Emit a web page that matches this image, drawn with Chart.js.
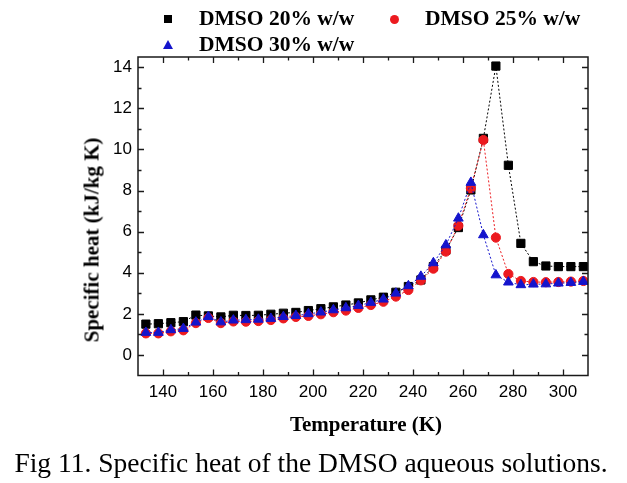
<!DOCTYPE html>
<html>
<head>
<meta charset="utf-8">
<script src="https://cdn.jsdelivr.net/npm/chart.js@4.4.1/dist/chart.umd.min.js"></script>
<style>
html,body{margin:0;padding:0;background:#fff;}
#wrap{position:relative;width:627px;height:483px;overflow:hidden;background:#fff;}
#c{position:absolute;left:0;top:0;}
.t{position:absolute;white-space:nowrap;font-family:"Liberation Serif","Times New Roman",serif;color:#000;line-height:1;}
.b{font-weight:bold;}
.mk{position:absolute;}
</style>
</head>
<body>
<div id="wrap">
<canvas id="c" width="627" height="483"></canvas>
<div id="legend"></div>
<div class="t b" id="ytitle" style="font-size:21px;left:92px;top:240px;transform:translate(-50%,-50%) rotate(-90deg);">Specific heat (kJ/kg K)</div>
<div class="t b" id="xtitle" style="font-size:21px;left:366px;top:424px;transform:translate(-50%,-50%);">Temperature (K)</div>
<div class="t" id="caption" style="font-size:27.5px;left:311px;top:463px;transform:translate(-50%,-50%);">Fig 11. Specific heat of the DMSO aqueous solutions.</div>
</div>
<script>
// ---- data ----
const temperatures = [133.15,138.15,143.15,148.15,153.15,158.15,163.15,168.15,173.15,178.15,
  183.15,188.15,193.15,198.15,203.15,208.15,213.15,218.15,223.15,228.15,
  233.15,238.15,243.15,248.15,253.15,258.15,263.15,268.15,273.15,278.15,
  283.15,288.15,293.15,298.15,303.15,308.15];
const dmso20 = [1.50,1.52,1.57,1.62,1.94,1.90,1.85,1.93,1.92,1.93,
  1.98,2.03,2.07,2.16,2.25,2.34,2.43,2.53,2.68,2.81,
  3.05,3.33,3.65,4.30,5.10,6.20,8.03,10.54,14.06,9.23,
  5.43,4.54,4.33,4.30,4.30,4.30];
const dmso25 = [1.05,1.05,1.15,1.20,1.55,1.80,1.55,1.63,1.62,1.65,
  1.70,1.78,1.85,1.90,1.98,2.08,2.16,2.29,2.43,2.59,
  2.84,3.16,3.63,4.20,5.03,6.29,8.11,10.46,5.71,3.94,
  3.60,3.55,3.54,3.55,3.57,3.60];
const dmso30 = [1.09,1.09,1.22,1.28,1.59,1.86,1.60,1.69,1.71,1.73,
  1.77,1.86,1.91,2.00,2.08,2.19,2.29,2.40,2.55,2.71,
  3.00,3.36,3.82,4.48,5.35,6.65,8.39,5.84,3.89,3.54,
  3.41,3.44,3.45,3.49,3.52,3.57];
const seriesNames = ["DMSO 20% w/w","DMSO 25% w/w","DMSO 30% w/w"];
const xTickLabels = [140,160,180,200,220,240,260,280,300];
const yTickLabels = [0,2,4,6,8,10,12,14];

const colors = ["#000000","#ec1a1f","#1414cc"];

// ---- legend (HTML text) ----
const legendItems = [
  {name: seriesNames[0], color: colors[0], shape: 'square', left: 163, top: 19},
  {name: seriesNames[1], color: colors[1], shape: 'circle', left: 389, top: 19},
  {name: seriesNames[2], color: colors[2], shape: 'triangle', left: 163, top: 45}
];
const legendEl = document.getElementById('legend');
legendItems.forEach(it => {
  const m = document.createElement('div');
  m.className = 'mk';
  if (it.shape === 'square') {
    m.style.cssText = `left:${it.left+1}px;top:${it.top-4}px;width:8px;height:8px;background:${it.color};`;
  } else if (it.shape === 'circle') {
    m.style.cssText = `left:${it.left+1}px;top:${it.top-4}px;width:9px;height:9px;border-radius:50%;background:${it.color};`;
  } else {
    m.style.cssText = `left:${it.left}px;top:${it.top-5}px;width:0;height:0;border-left:5px solid transparent;border-right:5px solid transparent;border-bottom:9px solid ${it.color};`;
  }
  legendEl.appendChild(m);
  const t = document.createElement('div');
  t.className = 't b';
  t.style.cssText = `font-size:21.5px;left:${it.left+36}px;top:${it.top}px;transform:translateY(-50%);`;
  t.textContent = it.name;
  legendEl.appendChild(t);
});

// ---- frame + inward ticks ----
const framePlugin = {
  id: 'frame',
  afterDatasetsDraw(chart) {
    const {ctx, chartArea: a, scales: {x, y}} = chart;
    ctx.save();
    ctx.strokeStyle = '#1a1a1a';
    ctx.lineWidth = 1.5;
    ctx.strokeRect(a.left, a.top, a.right - a.left, a.bottom - a.top);
    ctx.lineWidth = 1.3;
    ctx.beginPath();
    const xMinor = xTickLabels.map(v => v + 10).filter(v => v < x.max && v > x.min);
    const yMinor = yTickLabels.map(v => v + 1).concat(yTickLabels.map(v => v - 1)).filter(v => v < y.max && v > y.min);
    const xt = (v, len) => {
      const p = Math.round(x.getPixelForValue(v)) + 0.5;
      ctx.moveTo(p, a.bottom); ctx.lineTo(p, a.bottom - len);
      ctx.moveTo(p, a.top); ctx.lineTo(p, a.top + len);
    };
    const yt = (v, len) => {
      const p = Math.round(y.getPixelForValue(v)) + 0.5;
      ctx.moveTo(a.left, p); ctx.lineTo(a.left + len, p);
      ctx.moveTo(a.right, p); ctx.lineTo(a.right - len, p);
    };
    xTickLabels.forEach(v => xt(v, 6));
    xMinor.forEach(v => xt(v, 3.5));
    yTickLabels.forEach(v => yt(v, 6));
    yMinor.forEach(v => yt(v, 3.5));
    ctx.stroke();
    ctx.restore();
  }
};

const mk = (arr) => temperatures.map((t, i) => ({x: t, y: arr[i]}));
const base = {showLine: true, borderWidth: 1, borderDash: [2, 2], tension: 0, pointBorderWidth: 1};

new Chart(document.getElementById('c'), {
  type: 'scatter',
  data: {
    datasets: [
      Object.assign({}, base, {label: seriesNames[0], data: mk(dmso20), borderColor: colors[0], backgroundColor: colors[0], pointBackgroundColor: colors[0], pointBorderColor: colors[0], pointStyle: 'rect', pointRadius: 5.8, order: 2}),
      Object.assign({}, base, {label: seriesNames[1], data: mk(dmso25), borderColor: colors[1], backgroundColor: colors[1], pointBackgroundColor: colors[1], pointBorderColor: colors[1], pointStyle: 'circle', pointRadius: 4.6, order: 1}),
      Object.assign({}, base, {label: seriesNames[2], data: mk(dmso30), borderColor: colors[2], backgroundColor: colors[2], pointBackgroundColor: colors[2], pointBorderColor: colors[2], pointStyle: 'triangle', pointRadius: 5.6, order: 0})
    ]
  },
  options: {
    responsive: false,
    animation: false,
    devicePixelRatio: 1,
    layout: {padding: {left: 0, top: 57, right: 39, bottom: 77.5}},
    plugins: {legend: {display: false}, tooltip: {enabled: false}},
    scales: {
      x: {
        type: 'linear', min: 130, max: 310,
        grid: {display: false, drawTicks: false},
        border: {display: false},
        afterBuildTicks: (s) => { s.ticks = xTickLabels.map(v => ({value: v})); },
        afterFit: (s) => { s.height = 30; },
        ticks: {padding: 7, color: '#000', font: {family: '"Liberation Sans", Arial, sans-serif', size: 17}, maxRotation: 0, autoSkip: false}
      },
      y: {
        type: 'linear', min: -1, max: 14.5,
        grid: {display: false, drawTicks: false},
        border: {display: false},
        afterBuildTicks: (s) => { s.ticks = yTickLabels.map(v => ({value: v})); },
        afterFit: (s) => { s.width = 138; },
        ticks: {padding: 6, color: '#000', font: {family: '"Liberation Sans", Arial, sans-serif', size: 17}, autoSkip: false}
      }
    }
  },
  plugins: [framePlugin]
});
</script>
</body>
</html>
